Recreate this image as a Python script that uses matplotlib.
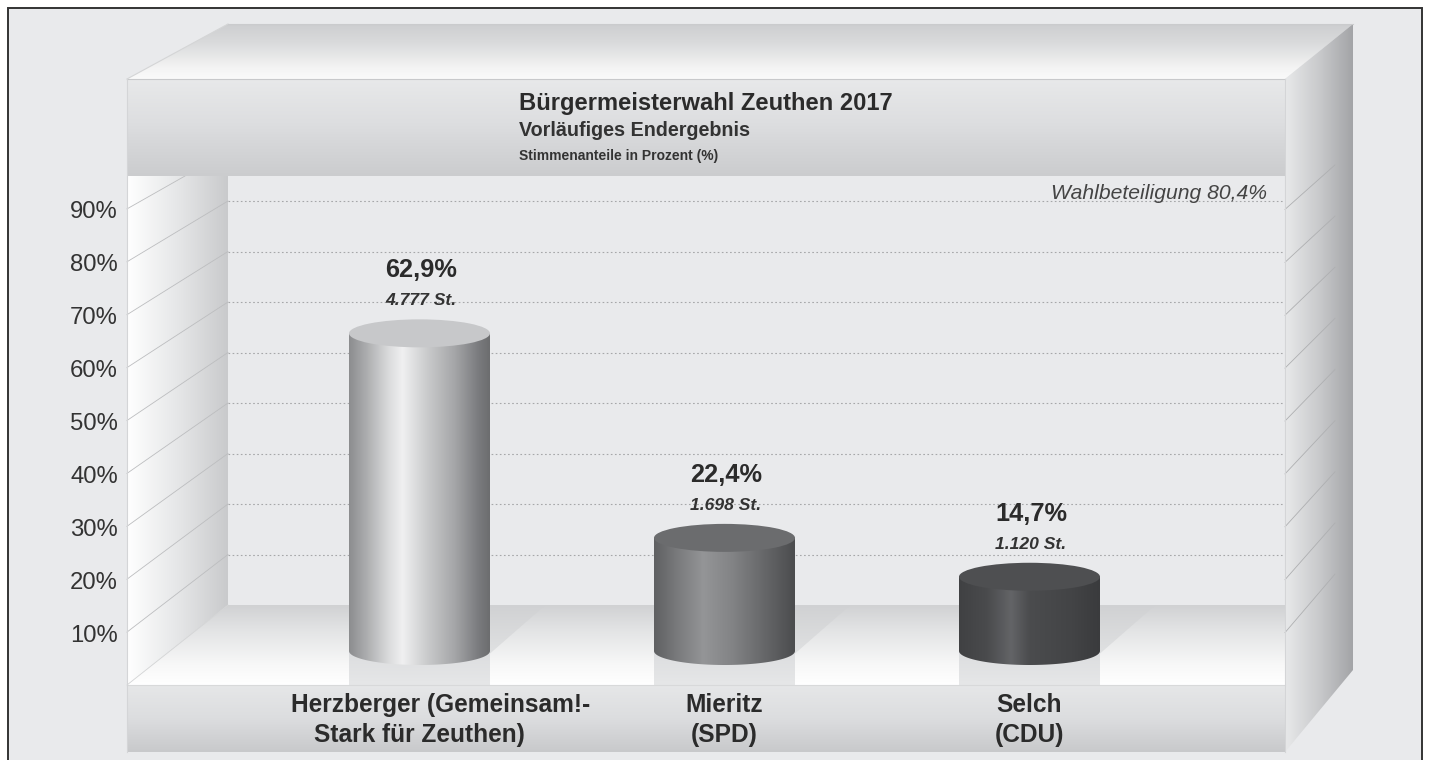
import numpy as np
import matplotlib
matplotlib.use('Agg')
import matplotlib.pyplot as plt
from matplotlib.colors import LinearSegmentedColormap
from matplotlib.patches import Polygon, Rectangle, Ellipse, PathPatch
from matplotlib.path import Path

plt.rcParams['font.family'] = ['Liberation Sans', 'DejaVu Sans']

# Daten
namen = [['Herzberger (Gemeinsam!-', 'Stark für Zeuthen)'], ['Mieritz', '(SPD)'], ['Selch', '(CDU)']]
anteile = [62.9, 22.4, 14.7]
anteil_text = ['62,9%', '22,4%', '14,7%']
stimmen_text = ['4.777 St.', '1.698 St.', '1.120 St.']
y_ticks = [10, 20, 30, 40, 50, 60, 70, 80, 90]
y_labels = ['10%', '20%', '30%', '40%', '50%', '60%', '70%', '80%', '90%']

titel = 'Bürgermeisterwahl Zeuthen 2017'
untertitel = 'Vorläufiges Endergebnis'
einheit = 'Stimmenanteile in Prozent (%)'
beteiligung = 'Wahlbeteiligung 80,4%'

# Farbverläufe der Säulen und Deckel
saeulen_farben = [
    [(0, '#8c8d8f'), (0.12, '#abacae'), (0.28, '#dadbdc'), (0.38, '#f0f0f1'), (0.55, '#cbcccd'),
     (0.75, '#a5a6a8'), (0.92, '#7a7b7e'), (1, '#6c6d6f')],
    [(0, '#5f6062'), (0.15, '#77787a'), (0.35, '#949597'), (0.55, '#838486'), (0.8, '#646567'), (1, '#4b4c4e')],
    [(0, '#404143'), (0.2, '#4a4b4d'), (0.37, '#636467'), (0.5, '#4b4c4e'), (0.8, '#434446'), (1, '#3a3b3d')],
]
deckel_farben = ['#c7c8ca', '#6b6c6e', '#4e4f51']

BG = '#e9eaec'
W, H = 1430, 760
fig = plt.figure(figsize=(W / 100, H / 100), dpi=100, facecolor='white')

# Kulisse in Pixelkoordinaten
ax = fig.add_axes([0, 0, 1, 1])
ax.axis('off')


def verlauf(a, stops, extent, vertikal=True, clip=None, z=1):
    cmap = LinearSegmentedColormap.from_list('v', stops)
    g = np.linspace(0, 1, 256)
    g = g.reshape(-1, 1) if vertikal else g.reshape(1, -1)
    im = a.imshow(g, cmap=cmap, extent=extent, aspect='auto', origin='upper', vmin=0, vmax=1,
                  zorder=z, interpolation='bilinear')
    if clip is not None:
        im.set_clip_path(clip)
    return im


ax.add_patch(Rectangle((7.5, 7.5), 1414, 770, fc=BG, ec='#333333', lw=1.4, zorder=0))

# Decke
decke = Polygon([(127, 79), (228, 24), (1353, 24), (1285, 79)], transform=ax.transData, fc='none', ec='none')
ax.add_patch(decke)
verlauf(ax, [(0, '#cdced0'), (0.35, '#dadbdc'), (0.8, '#f4f4f4'), (1, '#fafafa')], (127, 1353, 79, 24), clip=decke)

# rechte Seite
seite = Polygon([(1285, 79), (1353, 24), (1353, 670), (1285, 752)], transform=ax.transData, fc='none', ec='none')
ax.add_patch(seite)
verlauf(ax, [(0, '#e8e9ea'), (0.5, '#c9cacc'), (1, '#a3a4a7')], (1285, 1353, 752, 24), vertikal=False, clip=seite)

# Boden
boden = Polygon([(127, 685), (228, 605), (1285, 605), (1285, 685)], transform=ax.transData, fc='none', ec='none')
ax.add_patch(boden)
boden_stops = [(0, '#d0d1d3'), (0.3, '#e2e3e4'), (0.75, '#f8f8f8'), (1, '#ffffff')]
verlauf(ax, boden_stops, (127, 1285, 685, 605), clip=boden)

# linke Wand
wand = Polygon([(127, 176), (228, 176), (228, 605), (127, 685)], transform=ax.transData, fc='none', ec='none')
ax.add_patch(wand)
verlauf(ax, [(0, '#ffffff'), (0.5, '#e6e7e8'), (1, '#c9cacc')], (127, 228, 685, 176), vertikal=False, clip=wand)

# Bänder vorn
verlauf(ax, [(0, '#e8e9ea'), (0.45, '#dddee0'), (1, '#cbccce')], (127, 1285, 176, 79), z=2)
verlauf(ax, [(0, '#e6e7e8'), (0.5, '#dcdddf'), (1, '#c8c9cb')], (127, 1285, 752, 685), z=2)
ax.plot([127, 1285], [79, 79], color='#c8c9cb', lw=0.8, zorder=3)
ax.plot([127, 1285], [685, 685], color='#d8d9da', lw=0.8, zorder=3)
ax.plot([127, 127], [79, 752], color='#d4d5d7', lw=0.8, zorder=3)
ax.plot([1285, 1285], [79, 752], color='#d4d5d7', lw=0.8, zorder=3)
ax.plot([127, 228], [79, 24], color='#d4d5d6', lw=0.8, zorder=3)
ax.plot([228, 1353], [24, 24], color='#cacbcd', lw=0.8, zorder=3)
ax.plot([127, 228], [685, 605], color='#d4d5d6', lw=0.6, zorder=1.5)

# Gitterlinien: hinten 5,05 px je Prozent, vorn 5,29 px je Prozent
for v, lab in zip(y_ticks, y_labels):
    hinten = 605 - 5.05 * v
    vorn = 685 - 5.29 * v
    if v < 90:
        ax.plot([127, 228], [vorn, hinten], color='#bcbdbf', lw=0.6, zorder=1.5)
    else:
        ax.plot([127, 185], [vorn, 176], color='#bcbdbf', lw=0.6, zorder=1.5)
    ax.plot([228, 1285], [hinten, hinten], color='#a6a7a9', lw=0.8, ls=(0, (1.5, 2.2)), zorder=1.5)
    # rechte Seite
    ax.plot([1285, 1335], [vorn + 0.5, vorn - 44 - (90 - v) * 0.175], color='#aeafb1', lw=0.6, zorder=1.5)
    ax.text(118, vorn + 9.5, lab, ha='right', va='baseline', fontsize=17.2, color='#333333', zorder=5)

# Schatten und Spiegelung am Boden
achse_x = [419.5, 724.5, 1029.5]
for x0 in achse_x:
    schatten = Polygon([(x0 + 70, 654), (x0 + 126, 605), (x0 + 70, 605)], transform=ax.transData, fc='none', ec='none')
    ax.add_patch(schatten)
    verlauf(ax, [(0, '#d0d1d3'), (1, '#e0e1e2')], (x0 + 70, x0 + 126, 654, 605), clip=schatten, z=1.2)
    verlauf(ax, [(0, '#d9dadc'), (1, '#e6e7e8')], (x0 - 70.5, x0 + 70.5, 685, 640), z=1.3)

# Texte in der Kulisse
ax.text(519, 110, titel, fontsize=17.1, fontweight='bold', color='#2b2b2b', zorder=5)
ax.text(519, 136, untertitel, fontsize=14.2, fontweight='bold', color='#333333', zorder=5)
ax.text(519, 160, einheit, fontsize=10, fontweight='bold', color='#333333', zorder=5)
ax.text(1267, 199, beteiligung, ha='right', fontsize=15.2, style='italic', color='#444444', zorder=5)

ax.set_xlim(0, W)
ax.set_ylim(H, 0)

# Säulen: Achse mit 5,05 px je Prozent, 0% liegt bei y=651
unten, oben = 700, 176
ax2 = fig.add_axes([228 / W, 1 - unten / H, (1285 - 228) / W, (unten - oben) / H])
ax2.patch.set_alpha(0)
ax2.axis('off')
breite = 141 / 305
ry = 14 / 5.05

for i, wert in enumerate(anteile):
    links, rechts = i - breite / 2, i + breite / 2
    t = np.linspace(np.pi, 2 * np.pi, 60)
    xs = i + breite / 2 * np.cos(t)
    ys = ry * np.sin(t)
    verts = np.vstack([np.column_stack([xs, ys]), [[rechts, wert], [links, wert], [links, 0]]])
    patch = PathPatch(Path(verts), transform=ax2.transData, fc='none', ec='none')
    ax2.add_patch(patch)
    verlauf(ax2, saeulen_farben[i], (links, rechts, -ry - 1, wert + 1), vertikal=False, clip=patch, z=3)
    ax2.add_patch(Ellipse((i, wert), breite, 2 * ry, fc=deckel_farben[i], ec='none', zorder=4))
    ax2.annotate(stimmen_text[i], (i, wert), xytext=(1, 28 * 0.72), textcoords='offset points', ha='center',
                 va='baseline', fontsize=12.6, style='italic', fontweight='bold', color='#333333', zorder=6)
    ax2.annotate(anteil_text[i], (i, wert), xytext=(1, 56 * 0.72), textcoords='offset points', ha='center',
                 va='baseline', fontsize=18.3, fontweight='bold', color='#2b2b2b', zorder=6)
    # Namen unter den Säulen
    versatz = 21 if i == 0 else 0
    ax2.annotate(namen[i][0], (i, 0), xytext=(versatz * 0.72, -61 * 0.72), textcoords='offset points', ha='center',
                 va='baseline', fontsize=17.65, fontweight='bold', color='#2b2b2b', annotation_clip=False)
    ax2.annotate(namen[i][1], (i, 0), xytext=(0, -91 * 0.72), textcoords='offset points', ha='center',
                 va='baseline', fontsize=17.65, fontweight='bold', color='#2b2b2b', annotation_clip=False)

ax2.set_xlim((228 - 419.5) / 305, (1285 - 419.5) / 305)
ax2.set_ylim((651 - unten) / 5.05, (651 - oben) / 5.05)

fig.savefig('out.png', dpi=100)
